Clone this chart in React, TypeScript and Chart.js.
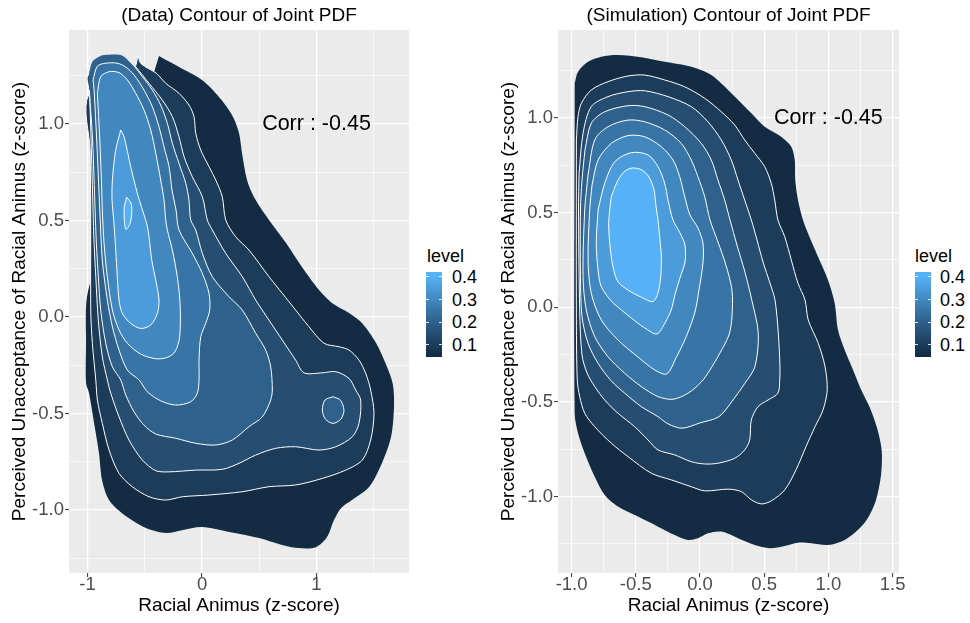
import React, { useEffect, useRef } from "react";
import { Chart, registerables } from "chart.js";

Chart.register(...registerables);

const FONT = "'Liberation Sans', Arial, Helvetica, sans-serif";

type Pt = [number, number];

// ---------------- shared ----------------
const levels = [0.05, 0.1, 0.15, 0.2, 0.25, 0.3, 0.35, 0.4];
const colorLow = "#132B43";
const colorHigh = "#56B1F7";
const legendTitle = "level";
const legendBreaks = [0.4, 0.3, 0.2, 0.1];
const legendLabels = ["0.4", "0.3", "0.2", "0.1"];
const xTitle = "Racial Animus (z-score)";
const yTitle = "Perceived Unacceptance of Racial Animus (z-score)";
const corrText = "Corr : -0.45";
const corrPos: Pt = [1, 1];
const yMajor = [-1, -0.5, 0, 0.5, 1];
const yMinor = [-1.25, -0.75, -0.25, 0.25, 0.75, 1.25];
const yLabels = ["-1.0", "-0.5", "0.0", "0.5", "1.0"];

// ---------------- left panel: (Data) ----------------
const dataTitle = "(Data) Contour of Joint PDF";
const dataXRange = [-1.162, 1.808];
const dataYRange = [-1.326, 1.487];
const dataXMajor = [-1, 0, 1];
const dataXMinor = [-0.5, 0.5, 1.5];
const dataXLabels = ["-1", "0", "1"];
const dataEdgeTop = 1.318;
const dataEdgeLeft = -0.983;

const dataLevel1: Pt[] = [
  [-0.376, 1.352], [-0.201, 1.295], [0.0, 1.228], [0.148, 1.14], [0.262, 1.047], [0.323, 0.953],
  [0.349, 0.85], [0.393, 0.71], [0.454, 0.622], [0.585, 0.503], [0.734, 0.383], [0.873, 0.259],
  [1.022, 0.14], [1.135, 0.073], [1.284, 0.021], [1.397, -0.031], [1.52, -0.135], [1.616, -0.259],
  [1.668, -0.352], [1.677, -0.466], [1.651, -0.622], [1.572, -0.756], [1.459, -0.881], [1.31, -0.948],
  [1.214, -0.99], [1.153, -1.052], [1.092, -1.14], [0.996, -1.192], [0.847, -1.197], [0.699, -1.181],
  [0.498, -1.145], [0.236, -1.114], [0.0, -1.088], [-0.175, -1.104], [-0.314, -1.119], [-0.489, -1.093],
  [-0.699, -1.016], [-0.812, -0.948], [-0.873, -0.845], [-0.9, -0.705], [-0.943, -0.549], [-0.987, -0.394],
  [-1.013, -0.342], [-1.013, -0.119], [-1.013, 0.052], [-0.987, 0.155],
];
const dataLevel2: Pt[] = [
  [-0.559, 1.358], [-0.535, 1.314], [-0.399, 1.263], [-0.317, 1.211], [-0.201, 1.159], [-0.114, 1.098],
  [-0.07, 1.038], [-0.055, 0.952], [-0.011, 0.865], [0.061, 0.779], [0.12, 0.71], [0.177, 0.623],
  [0.207, 0.503], [0.294, 0.416], [0.41, 0.347], [0.585, 0.209], [0.701, 0.123], [0.818, 0.036],
  [0.934, -0.05], [1.066, -0.136], [1.197, -0.154], [1.284, -0.171], [1.371, -0.223], [1.43, -0.292],
  [1.473, -0.378], [1.502, -0.499], [1.473, -0.637], [1.4, -0.741], [1.255, -0.793], [1.051, -0.836],
  [0.818, -0.87], [0.585, -0.879], [0.352, -0.905], [0.061, -0.922], [-0.172, -0.931], [-0.317, -0.948],
  [-0.463, -0.931], [-0.609, -0.879], [-0.725, -0.81], [-0.812, -0.689], [-0.871, -0.551], [-0.914, -0.43],
  [-0.928, -0.326], [-0.958, -0.136], [-0.972, 0.036], [-0.972, 0.554], [-0.978, 0.865], [-0.991, 1.15],
  [-0.594, 1.29],
];
const dataLevel3: Pt[] = [
  [-0.579, 1.297], [-0.463, 1.211], [-0.347, 1.124], [-0.259, 1.038], [-0.201, 0.934], [-0.157, 0.831],
  [-0.085, 0.727], [0.003, 0.623], [0.046, 0.503], [0.09, 0.451], [0.207, 0.33], [0.352, 0.209],
  [0.469, 0.088], [0.585, -0.016], [0.701, -0.119], [0.818, -0.223], [0.891, -0.289], [1.051, -0.289],
  [1.168, -0.283], [1.284, -0.318], [1.342, -0.378], [1.386, -0.43], [1.371, -0.551], [1.313, -0.62],
  [1.168, -0.672], [1.022, -0.689], [0.818, -0.672], [0.644, -0.68], [0.469, -0.715], [0.323, -0.758],
  [0.177, -0.789], [-0.055, -0.793], [-0.288, -0.802], [-0.404, -0.796], [-0.521, -0.741], [-0.638, -0.637],
  [-0.725, -0.517], [-0.797, -0.395], [-0.827, -0.326], [-0.871, -0.206], [-0.906, -0.016], [-0.928, 0.209],
  [-0.943, 0.383], [-0.952, 0.554], [-0.969, 0.917], [-0.983, 1.176], [-0.987, 1.254],
];
const dataLevel4: Pt[] = [
  [-0.987, 1.263], [-0.958, 1.323], [-0.9, 1.349], [-0.856, 1.358], [-0.71, 1.358], [-0.652, 1.335],
  [-0.594, 1.301], [-0.521, 1.245], [-0.434, 1.176], [-0.361, 1.098], [-0.303, 1.004], [-0.259, 0.9],
  [-0.201, 0.796], [-0.142, 0.693], [-0.114, 0.606], [-0.099, 0.503], [-0.055, 0.451], [0.003, 0.33],
  [0.09, 0.209], [0.236, 0.105], [0.352, 0.036], [0.469, -0.084], [0.556, -0.171], [0.6, -0.258],
  [0.614, -0.378], [0.6, -0.43], [0.527, -0.517], [0.41, -0.568], [0.265, -0.637], [0.12, -0.663],
  [-0.055, -0.654], [-0.23, -0.628], [-0.404, -0.606], [-0.507, -0.56], [-0.594, -0.491], [-0.666, -0.404],
  [-0.71, -0.326], [-0.783, -0.258], [-0.841, -0.136], [-0.885, 0.036], [-0.906, 0.209], [-0.923, 0.382],
  [-0.934, 0.554], [-0.956, 0.917], [-0.984, 1.176],
];
const dataIsland4: Pt[] = [
  [1.144, -0.413], [1.208, -0.43], [1.24, -0.482], [1.214, -0.528], [1.144, -0.551], [1.077, -0.528],
  [1.051, -0.482], [1.074, -0.43],
];
const dataLevel5: Pt[] = [
  [-0.952, 1.228], [-0.914, 1.3], [-0.841, 1.315], [-0.74, 1.315], [-0.666, 1.295], [-0.594, 1.254],
  [-0.507, 1.176], [-0.434, 1.09], [-0.376, 0.986], [-0.332, 0.882], [-0.288, 0.779], [-0.262, 0.658],
  [-0.227, 0.554], [-0.201, 0.451], [-0.085, 0.33], [0.003, 0.226], [0.061, 0.123], [0.067, 0.036],
  [0.032, -0.033], [-0.011, -0.102], [-0.026, -0.223], [-0.026, -0.326], [-0.041, -0.395], [-0.099, -0.439],
  [-0.23, -0.456], [-0.361, -0.434], [-0.478, -0.387], [-0.55, -0.326], [-0.652, -0.275], [-0.725, -0.171],
  [-0.783, -0.05], [-0.827, 0.088], [-0.871, 0.295], [-0.893, 0.554], [-0.92, 0.917], [-0.943, 1.176],
];
const dataLevel6: Pt[] = [
  [-0.914, 1.159], [-0.885, 1.245], [-0.812, 1.271], [-0.725, 1.266], [-0.652, 1.228], [-0.579, 1.159],
  [-0.507, 1.073], [-0.448, 0.969], [-0.404, 0.848], [-0.361, 0.71], [-0.332, 0.606], [-0.317, 0.503],
  [-0.303, 0.451], [-0.259, 0.347], [-0.216, 0.209], [-0.192, 0.071], [-0.195, -0.102], [-0.236, -0.18],
  [-0.303, -0.209], [-0.404, -0.216], [-0.535, -0.192], [-0.652, -0.136], [-0.725, -0.067], [-0.783, 0.036],
  [-0.827, 0.209], [-0.856, 0.382], [-0.871, 0.554], [-0.879, 0.71], [-0.893, 0.917],
];
const dataLevel7: Pt[] = [
  [-0.71, 0.969], [-0.681, 0.934], [-0.623, 0.779], [-0.565, 0.641], [-0.515, 0.544], [-0.48, 0.477],
  [-0.463, 0.416], [-0.439, 0.295], [-0.399, 0.175], [-0.376, 0.088], [-0.39, 0.019], [-0.448, -0.041],
  [-0.535, -0.059], [-0.623, -0.033], [-0.696, 0.019], [-0.725, 0.088], [-0.74, 0.209], [-0.754, 0.347],
  [-0.769, 0.485], [-0.786, 0.606], [-0.783, 0.71], [-0.754, 0.865],
];
const dataLevel8: Pt[] = [
  [-0.658, 0.62], [-0.62, 0.589], [-0.614, 0.537], [-0.629, 0.485], [-0.664, 0.454], [-0.679, 0.503],
  [-0.679, 0.571],
];
const dataStrayLine: Pt[] = [[-1.016, 1.295], [-0.972, 1.358]];

// ---------------- right panel: (Simulation) ----------------
const simTitle = "(Simulation) Contour of Joint PDF";
const simXRange = [-1.106, 1.55];
const simYRange = [-1.404, 1.465];
const simXMajor = [-1, -0.5, 0, 0.5, 1, 1.5];
const simXMinor = [-0.75, -0.25, 0.25, 0.75, 1.25];
const simXLabels = ["-1.0", "-0.5", "0.0", "0.5", "1.0", "1.5"];
const simEdgeTop = 1.5;
const simEdgeLeft = -0.97;

const simLevel1: Pt[] = [
  [-0.976, 1.183], [-0.95, 1.245], [-0.872, 1.297], [-0.769, 1.324], [-0.639, 1.333], [-0.457, 1.321],
  [-0.275, 1.297], [-0.068, 1.271], [0.088, 1.227], [0.244, 1.131], [0.4, 1.025], [0.504, 0.954],
  [0.633, 0.901], [0.711, 0.848], [0.738, 0.778], [0.742, 0.672], [0.763, 0.567], [0.802, 0.461],
  [0.841, 0.391], [0.919, 0.267], [0.997, 0.144], [1.049, 0.021], [1.075, -0.12], [1.127, -0.226],
  [1.192, -0.331], [1.256, -0.437], [1.324, -0.532], [1.379, -0.638], [1.415, -0.754], [1.41, -0.886],
  [1.371, -1.018], [1.308, -1.113], [1.231, -1.176], [1.127, -1.229], [0.997, -1.256], [0.867, -1.247],
  [0.763, -1.244], [0.66, -1.261], [0.543, -1.273], [0.426, -1.256], [0.296, -1.22], [0.166, -1.185],
  [0.062, -1.194], [-0.016, -1.22], [-0.093, -1.229], [-0.197, -1.203], [-0.327, -1.159], [-0.483, -1.106],
  [-0.639, -1.053], [-0.742, -0.992], [-0.82, -0.895], [-0.898, -0.771], [-0.95, -0.666], [-0.976, -0.56],
];
const simLevel2: Pt[] = [
  [-0.963, 0.884], [-0.95, 1.007], [-0.924, 1.078], [-0.847, 1.148], [-0.717, 1.192], [-0.561, 1.222],
  [-0.431, 1.227], [-0.275, 1.201], [-0.119, 1.165], [0.037, 1.104], [0.166, 1.033], [0.27, 0.963],
  [0.348, 0.884], [0.426, 0.814], [0.504, 0.743], [0.555, 0.655], [0.582, 0.567], [0.607, 0.461],
  [0.66, 0.373], [0.711, 0.25], [0.763, 0.127], [0.818, 0.039], [0.843, -0.067], [0.921, -0.19],
  [0.974, -0.314], [0.991, -0.437], [0.958, -0.543], [0.896, -0.631], [0.826, -0.736], [0.748, -0.859],
  [0.66, -0.965], [0.555, -1.023], [0.479, -1.039], [0.401, -1.018], [0.322, -0.974], [0.218, -0.961],
  [0.037, -0.97], [-0.068, -0.948], [-0.224, -0.912], [-0.379, -0.877], [-0.561, -0.789], [-0.691, -0.718],
  [-0.82, -0.631], [-0.898, -0.56], [-0.937, -0.472], [-0.956, -0.384], [-0.963, -0.014],
];
const simLevel3: Pt[] = [
  [-0.942, 0.708], [-0.911, 0.919], [-0.847, 1.06], [-0.717, 1.113], [-0.561, 1.139], [-0.431, 1.144],
  [-0.249, 1.113], [-0.068, 1.06], [0.062, 0.98], [0.166, 0.884], [0.244, 0.778], [0.296, 0.672],
  [0.348, 0.567], [0.4, 0.461], [0.444, 0.356], [0.491, 0.239], [0.545, 0.128], [0.584, 0.039],
  [0.61, -0.137], [0.623, -0.314], [0.621, -0.384], [0.607, -0.454], [0.53, -0.49], [0.452, -0.525],
  [0.4, -0.595], [0.387, -0.701], [0.348, -0.754], [0.27, -0.798], [0.14, -0.824], [0.037, -0.828],
  [-0.068, -0.816], [-0.197, -0.78], [-0.327, -0.754], [-0.405, -0.701], [-0.509, -0.631], [-0.639, -0.56],
  [-0.742, -0.49], [-0.82, -0.419], [-0.88, -0.347], [-0.919, -0.252], [-0.937, -0.014], [-0.946, 0.514],
];
const simLevel4: Pt[] = [
  [-0.896, 0.831], [-0.847, 0.972], [-0.742, 1.033], [-0.561, 1.065], [-0.431, 1.06], [-0.249, 1.016],
  [-0.119, 0.954], [0.01, 0.866], [0.088, 0.778], [0.14, 0.672], [0.192, 0.567], [0.234, 0.461],
  [0.288, 0.329], [0.35, 0.186], [0.403, 0.039], [0.454, -0.137], [0.428, -0.314], [0.35, -0.401],
  [0.257, -0.49], [0.148, -0.578], [0.0, -0.611], [-0.14, -0.639], [-0.249, -0.616], [-0.327, -0.578],
  [-0.457, -0.525], [-0.586, -0.454], [-0.691, -0.389], [-0.794, -0.296], [-0.872, -0.19], [-0.919, -0.05],
  [-0.931, 0.162], [-0.931, 0.514], [-0.919, 0.672],
];
const simLevel5: Pt[] = [
  [-0.872, 0.699], [-0.82, 0.884], [-0.717, 0.954], [-0.561, 0.989], [-0.431, 0.98], [-0.275, 0.937],
  [-0.146, 0.866], [-0.068, 0.778], [-0.016, 0.69], [0.037, 0.584], [0.078, 0.461], [0.14, 0.345],
  [0.202, 0.223], [0.249, 0.091], [0.249, -0.051], [0.226, -0.146], [0.156, -0.241], [0.078, -0.331],
  [0.01, -0.395], [-0.093, -0.454], [-0.21, -0.486], [-0.327, -0.472], [-0.457, -0.419], [-0.586, -0.349],
  [-0.717, -0.261], [-0.82, -0.155], [-0.886, -0.014], [-0.911, 0.162], [-0.898, 0.514],
];
const simLevel6: Pt[] = [
  [-0.841, 0.646], [-0.794, 0.778], [-0.691, 0.866], [-0.561, 0.907], [-0.431, 0.901], [-0.301, 0.848],
  [-0.21, 0.778], [-0.158, 0.69], [-0.119, 0.584], [-0.078, 0.488], [-0.016, 0.419], [0.023, 0.34],
  [0.023, 0.234], [-0.008, 0.091], [-0.039, -0.025], [-0.107, -0.155], [-0.187, -0.268], [-0.259, -0.352],
  [-0.353, -0.331], [-0.483, -0.263], [-0.639, -0.173], [-0.769, -0.067], [-0.847, 0.074], [-0.872, 0.25],
  [-0.859, 0.514],
];
const simLevel7: Pt[] = [
  [-0.794, 0.514], [-0.742, 0.655], [-0.664, 0.769], [-0.535, 0.817], [-0.405, 0.805], [-0.327, 0.743],
  [-0.275, 0.655], [-0.249, 0.567], [-0.21, 0.461], [-0.156, 0.393], [-0.117, 0.329], [-0.117, 0.239],
  [-0.156, 0.155], [-0.195, 0.065], [-0.224, -0.014], [-0.273, -0.083], [-0.335, -0.141], [-0.431, -0.109],
  [-0.535, -0.057], [-0.613, -0.014], [-0.691, 0.033], [-0.769, 0.109], [-0.794, 0.197], [-0.808, 0.338],
];
const simLevel8: Pt[] = [
  [-0.691, 0.584], [-0.639, 0.672], [-0.584, 0.72], [-0.522, 0.736], [-0.452, 0.725], [-0.397, 0.688],
  [-0.358, 0.62], [-0.343, 0.535], [-0.327, 0.461], [-0.312, 0.356], [-0.301, 0.271], [-0.306, 0.162],
  [-0.327, 0.076], [-0.366, 0.03], [-0.457, 0.053], [-0.561, 0.091], [-0.639, 0.135], [-0.678, 0.214],
  [-0.703, 0.338], [-0.711, 0.444], [-0.703, 0.514],
];

const dataPolys = [
  { level: levels[0], pts: dataLevel1 },
  { level: levels[1], pts: dataLevel2 },
  { level: levels[2], pts: dataLevel3 },
  { level: levels[3], pts: dataLevel4 },
  { level: levels[3], pts: dataIsland4 },
  { level: levels[4], pts: dataLevel5 },
  { level: levels[5], pts: dataLevel6 },
  { level: levels[6], pts: dataLevel7 },
  { level: levels[7], pts: dataLevel8 },
];
const simPolys = [
  { level: levels[0], pts: simLevel1 },
  { level: levels[1], pts: simLevel2 },
  { level: levels[2], pts: simLevel3 },
  { level: levels[3], pts: simLevel4 },
  { level: levels[4], pts: simLevel5 },
  { level: levels[5], pts: simLevel6 },
  { level: levels[6], pts: simLevel7 },
  { level: levels[7], pts: simLevel8 },
];

// ---------------- colour (ggplot-like Lab gradient) ----------------
function hexToRgb(h: string) {
  const n = parseInt(h.slice(1), 16);
  return [(n >> 16) & 255, (n >> 8) & 255, n & 255];
}
const toLin = (c: number) => {
  const v = c / 255;
  return v <= 0.04045 ? v / 12.92 : Math.pow((v + 0.055) / 1.055, 2.4);
};
const fromLin = (c: number) => {
  const v = c <= 0.0031308 ? 12.92 * c : 1.055 * Math.pow(c, 1 / 2.4) - 0.055;
  return Math.round(Math.max(0, Math.min(1, v)) * 255);
};
const Xn = 0.95047, Yn = 1.0, Zn = 1.08883;
const fLab = (t: number) => (t > 0.008856 ? Math.cbrt(t) : 7.787 * t + 16 / 116);
const fInv = (t: number) => (t > 0.206893 ? t * t * t : (t - 16 / 116) / 7.787);
function rgbToLab(rgb: number[]) {
  const [R, G, B] = rgb.map(toLin);
  const X = 0.4124 * R + 0.3576 * G + 0.1805 * B;
  const Y = 0.2126 * R + 0.7152 * G + 0.0722 * B;
  const Z = 0.0193 * R + 0.1192 * G + 0.9505 * B;
  const fx = fLab(X / Xn), fy = fLab(Y / Yn), fz = fLab(Z / Zn);
  return [116 * fy - 16, 500 * (fx - fy), 200 * (fy - fz)];
}
function labToRgb(lab: number[]) {
  const fy = (lab[0] + 16) / 116;
  const fx = fy + lab[1] / 500;
  const fz = fy - lab[2] / 200;
  const X = Xn * fInv(fx), Y = Yn * fInv(fy), Z = Zn * fInv(fz);
  const R = 3.2406 * X - 1.5372 * Y - 0.4986 * Z;
  const G = -0.9689 * X + 1.8758 * Y + 0.0415 * Z;
  const B = 0.0557 * X - 0.204 * Y + 1.057 * Z;
  return [fromLin(R), fromLin(G), fromLin(B)];
}
const labLow = rgbToLab(hexToRgb(colorLow));
const labHigh = rgbToLab(hexToRgb(colorHigh));
function levelColor(v: number) {
  const lo = levels[0], hi = levels[levels.length - 1];
  const t = Math.max(0, Math.min(1, (v - lo) / (hi - lo)));
  const lab = labLow.map((a, i) => a + (labHigh[i] - a) * t);
  const [r, g, b] = labToRgb(lab);
  return `rgb(${r},${g},${b})`;
}

// ---------------- chart helpers ----------------
const bgPlugin = {
  id: "panelBg",
  beforeDraw(chart: any) {
    const { ctx, chartArea: a } = chart;
    ctx.save();
    ctx.fillStyle = "#EBEBEB";
    ctx.fillRect(a.left, a.top, a.right - a.left, a.bottom - a.top);
    ctx.restore();
  },
};
const corrPlugin = {
  id: "corr",
  afterDatasetsDraw(chart: any, _args: any, opts: any) {
    const { ctx, scales } = chart;
    ctx.save();
    ctx.font = `21.5px ${FONT}`;
    ctx.fillStyle = "#000000";
    ctx.textAlign = "center";
    ctx.textBaseline = "middle";
    ctx.fillText(opts.text, scales.x.getPixelForValue(opts.x), scales.y.getPixelForValue(opts.y));
    ctx.restore();
  },
};

function buildDatasets(polys: any[], strays: Pt[][], isEdge: (p: any) => boolean) {
  const ds: any[] = [];
  polys.forEach((poly, i) => {
    const pts = [...poly.pts, poly.pts[0]].map(([x, y]: Pt) => ({ x, y }));
    ds.push({
      data: pts,
      fill: "shape",
      backgroundColor: levelColor(poly.level),
      borderColor: "rgba(0,0,0,0)",
      borderWidth: 0,
      pointRadius: 0,
      tension: 0.3,
      order: 1000 - 2 * i,
    });
    if (poly.level !== levels[0]) {
      ds.push({
        data: pts,
        fill: false,
        borderColor: "#FFFFFF",
        borderWidth: 1,
        pointRadius: 0,
        tension: 0.3,
        order: 1000 - 2 * i - 1,
        segment: {
          borderColor: (c: any) => {
            const d = c.chart.data.datasets[c.datasetIndex].data;
            const a = d[c.p0DataIndex], b = d[c.p1DataIndex];
            return isEdge(a) && isEdge(b) ? "rgba(255,255,255,0)" : "#FFFFFF";
          },
        },
      });
    }
  });
  strays.forEach((s) => {
    ds.push({
      data: s.map(([x, y]) => ({ x, y })),
      fill: false,
      borderColor: "#FFFFFF",
      borderWidth: 1,
      pointRadius: 0,
      order: 0,
    });
  });
  return ds;
}

const idx = (arr: number[], v: number) => arr.findIndex((m) => Math.abs(m - v) < 1e-6);

function axisCfg(range: number[], major: number[], minor: number[], labels: string[], horizontal: boolean, title: string) {
  const all = [...major, ...minor].sort((a, b) => a - b);
  return {
    type: "linear",
    position: horizontal ? "bottom" : "left",
    min: range[0],
    max: range[1],
    afterBuildTicks: (s: any) => {
      s.ticks = all.map((v) => ({ value: v }));
    },
    afterFit: (s: any) => {
      if (horizontal) s.height = 50;
      else s.width = 69;
    },
    border: { display: false },
    grid: {
      color: "#FFFFFF",
      lineWidth: (c: any) => (idx(major, c.tick ? c.tick.value : NaN) >= 0 ? 1.2 : 0.6),
      tickLength: 4,
      tickWidth: 1,
      tickColor: (c: any) => (idx(major, c.tick ? c.tick.value : NaN) >= 0 ? "#333333" : "rgba(0,0,0,0)"),
    },
    ticks: {
      autoSkip: false,
      maxRotation: 0,
      minRotation: 0,
      padding: horizontal ? -1 : 1,
      color: "#4D4D4D",
      font: { family: FONT, size: 18.5, lineHeight: horizontal ? 1 : 1.2 },
      callback: (v: number) => {
        const k = idx(major, v);
        return k >= 0 ? labels[k] : "";
      },
    },
    title: {
      display: true,
      text: title,
      color: "#000000",
      font: { family: FONT, size: 19, lineHeight: 1.2 },
      padding: horizontal ? { top: 0, bottom: 5.6 } : { top: 8.6, bottom: 0 },
    },
  };
}

function Panel(p: any) {
  const ref = useRef<HTMLCanvasElement | null>(null);
  useEffect(() => {
    if (!ref.current) return;
    const chart = new Chart(ref.current, {
      type: "line",
      data: { datasets: buildDatasets(p.polys, p.strays, p.isEdge) },
      options: {
        responsive: false,
        maintainAspectRatio: false,
        animation: false,
        devicePixelRatio: 1,
        events: [],
        layout: { padding: { left: 0, top: 0, right: p.padRight, bottom: 0 } },
        plugins: {
          legend: { display: false },
          tooltip: { enabled: false },
          title: {
            display: true,
            text: p.title,
            color: "#000000",
            fullSize: false,
            font: { family: FONT, size: 19, weight: "normal", lineHeight: 1.2 },
            padding: { top: 4, bottom: 3.2 },
          },
          corr: { text: corrText, x: corrPos[0], y: corrPos[1] },
        },
        scales: {
          x: axisCfg(p.xRange, p.xMajor, p.xMinor, p.xLabels, true, xTitle),
          y: axisCfg(p.yRange, yMajor, yMinor, yLabels, false, yTitle),
        },
      } as any,
      plugins: [bgPlugin, corrPlugin],
    } as any);
    return () => chart.destroy();
  }, []);
  return (
    <canvas
      ref={ref}
      width={p.width}
      height={623}
      style={{ position: "absolute", left: p.left, top: 0, width: p.width, height: 623 }}
    />
  );
}

// ---------------- legend ----------------
const legendTop = 272;
const legendHeight = 85;
const legendPy = (v: number) => 276.7 + (0.4 - v) * 227;

function Legend({ titleX, barX, labelX }: { titleX: number; barX: number; labelX: number }) {
  const stops: string[] = [];
  for (let k = 20; k >= 0; k--) {
    const v = levels[0] + ((levels[levels.length - 1] - levels[0]) * k) / 20;
    const pos = ((legendPy(v) - legendTop) / legendHeight) * 100;
    stops.push(`${levelColor(v)} ${pos.toFixed(2)}%`);
  }
  const barW = 16;
  return (
    <>
      <div
        style={{
          position: "absolute", left: titleX, top: 246.8, font: `18px ${FONT}`, lineHeight: "18px",
          color: "#000", whiteSpace: "nowrap",
        }}
      >
        {legendTitle}
      </div>
      <div
        style={{
          position: "absolute", left: barX, top: legendTop, width: barW, height: legendHeight,
          background: `linear-gradient(to bottom, ${stops.join(", ")})`,
        }}
      >
        {legendBreaks.map((v) => (
          <React.Fragment key={v}>
            <div style={{ position: "absolute", left: 0, top: legendPy(v) - legendTop - 0.5, width: 3.2, height: 1, background: "rgba(255,255,255,0.85)" }} />
            <div style={{ position: "absolute", right: 0, top: legendPy(v) - legendTop - 0.5, width: 3.2, height: 1, background: "rgba(255,255,255,0.85)" }} />
          </React.Fragment>
        ))}
      </div>
      {legendBreaks.map((v, i) => (
        <div
          key={"l" + v}
          style={{
            position: "absolute", left: labelX, top: legendPy(v) - 8.8, font: `18px ${FONT}`, lineHeight: "18px",
            color: "#000", whiteSpace: "nowrap",
          }}
        >
          {legendLabels[i]}
        </div>
      ))}
    </>
  );
}

export default function App() {
  useEffect(() => {
    document.body.style.margin = "0";
  }, []);
  const dataEdge = (pt: any) => pt.y >= dataEdgeTop || pt.x <= dataEdgeLeft;
  const simEdge = (pt: any) => pt.y >= simEdgeTop || pt.x <= simEdgeLeft;
  return (
    <div style={{ position: "absolute", left: 0, top: 0, width: 970, height: 623, background: "#FFFFFF", overflow: "hidden" }}>
      <Panel
        left={0}
        width={412}
        padRight={3}
        title={dataTitle}
        polys={dataPolys}
        strays={[dataStrayLine]}
        isEdge={dataEdge}
        xRange={dataXRange}
        yRange={dataYRange}
        xMajor={dataXMajor}
        xMinor={dataXMinor}
        xLabels={dataXLabels}
      />
      <Legend titleX={427} barX={426} labelX={452} />
      <Panel
        left={489}
        width={419}
        padRight={9}
        title={simTitle}
        polys={simPolys}
        strays={[]}
        isEdge={simEdge}
        xRange={simXRange}
        yRange={simYRange}
        xMajor={simXMajor}
        xMinor={simXMinor}
        xLabels={simXLabels}
      />
      <Legend titleX={915} barX={915} labelX={940} />
    </div>
  );
}
